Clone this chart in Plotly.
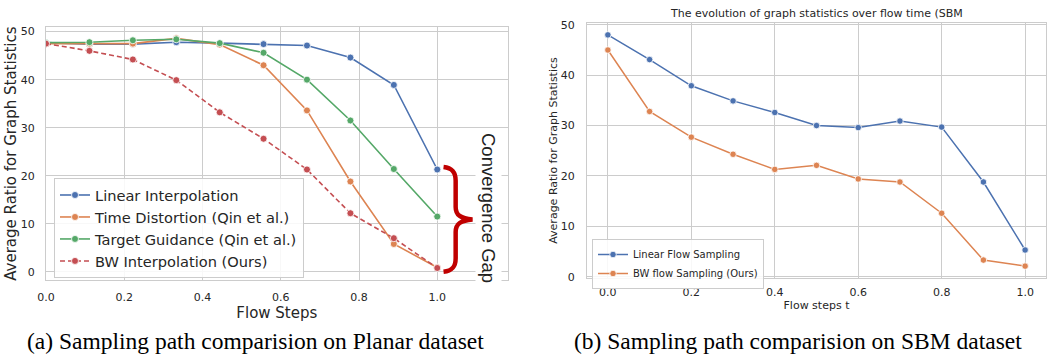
import plotly.graph_objects as go

# ---------------- data ----------------
steps_a = [0.0, 0.111, 0.222, 0.333, 0.444, 0.556, 0.667, 0.778, 0.889, 1.0]
linear_interp = [47.7, 47.4, 47.4, 47.8, 47.6, 47.4, 47.1, 44.6, 38.9, 21.3]
time_distortion = [47.5, 47.5, 47.5, 48.6, 47.3, 43.0, 33.6, 18.8, 5.8, 0.9]
target_guidance = [47.7, 47.8, 48.2, 48.4, 47.6, 45.6, 40.0, 31.5, 21.4, 11.5]
bw_interp = [47.5, 46.0, 44.2, 39.9, 33.2, 27.7, 21.3, 12.2, 7.0, 0.8]

steps_b = [0.0, 0.1, 0.2, 0.3, 0.4, 0.5, 0.6, 0.7, 0.8, 0.9, 1.0]
linear_flow = [48.0, 43.1, 37.9, 34.9, 32.6, 30.0, 29.6, 30.9, 29.7, 18.8, 5.3]
bw_flow = [45.0, 32.8, 27.7, 24.3, 21.3, 22.1, 19.4, 18.8, 12.6, 3.3, 2.1]

names_a = ["Linear Interpolation", "Time Distortion (Qin et al.)",
           "Target Guidance (Qin et al.)", "BW Interpolation (Ours)"]
names_b = ["Linear Flow Sampling", "BW flow Sampling (Ours)"]
ticks = [0.0, 0.2, 0.4, 0.6, 0.8, 1.0]
tick_text = ["0.0", "0.2", "0.4", "0.6", "0.8", "1.0"]

BLUE, ORANGE, GREEN, RED = "#4C72B0", "#DD8452", "#55A868", "#C44E52"
W, H = 1047, 356
FONT = "DejaVu Sans"
TXT = "#262626"
GRID = "#cccccc"

fig = go.Figure()

series_a = [(linear_interp, BLUE, "solid"), (time_distortion, ORANGE, "solid"),
            (target_guidance, GREEN, "solid"), (bw_interp, RED, "5px,3px")]
for (ys, col, dash), nm in zip(series_a, names_a):
    fig.add_trace(go.Scatter(
        x=steps_a, y=ys, name=nm, mode="lines+markers",
        line=dict(color=col, width=1.6, dash=dash),
        marker=dict(color=col, size=7, line=dict(color="white", width=0.8)),
        xaxis="x", yaxis="y", legend="legend"))

for ys, col, nm in [(linear_flow, BLUE, names_b[0]), (bw_flow, ORANGE, names_b[1])]:
    fig.add_trace(go.Scatter(
        x=steps_b, y=ys, name=nm, mode="lines+markers",
        line=dict(color=col, width=1.5),
        marker=dict(color=col, size=6.5, line=dict(color="white", width=0.8)),
        xaxis="x2", yaxis="y2", legend="legend2"))

def px_x(p):
    return p / W

def px_y(p):
    return 1 - p / H

axis_common = dict(showgrid=True, gridcolor=GRID, gridwidth=1, showline=True,
                   linecolor=GRID, linewidth=1.3, mirror=True, zeroline=False,
                   ticks="", color=TXT, automargin=False)

fig.update_layout(
    width=W, height=H, margin=dict(l=0, r=0, t=0, b=0, autoexpand=False),
    paper_bgcolor="white", plot_bgcolor="white",
    font=dict(family=FONT, color=TXT),
    xaxis=dict(axis_common, domain=[px_x(46), px_x(507.7)], range=[0, 1.18],
               tickvals=ticks, ticktext=tick_text, tickfont=dict(size=11),
               ticklabelstandoff=7, anchor="y",
               title=dict(text="Flow Steps", font=dict(size=15), standoff=1)),
    yaxis=dict(axis_common, domain=[px_y(280), px_y(27.3)], range=[-1.7, 50.9],
               tickvals=[0, 10, 20, 30, 40, 50], tickfont=dict(size=11),
               ticklabelstandoff=8, anchor="x",
               title=dict(text="Average Ratio for Graph Statistics",
                          font=dict(size=15), standoff=0)),
    xaxis2=dict(axis_common, domain=[px_x(587), px_x(1046)], range=[-0.05, 1.05],
                tickvals=ticks, ticktext=tick_text, tickfont=dict(size=11),
                ticklabelstandoff=4, anchor="y2",
                title=dict(text="Flow steps t", font=dict(size=11), standoff=1)),
    yaxis2=dict(axis_common, domain=[px_y(277.7), px_y(23.3)], range=[-0.2, 50.3],
                tickvals=[0, 10, 20, 30, 40, 50], tickfont=dict(size=11),
                ticklabelstandoff=9, anchor="x2",
                title=dict(text="Average Ratio for Graph Statistics",
                           font=dict(size=11), standoff=0)),
    legend=dict(x=px_x(54), y=px_y(178), xanchor="left", yanchor="top",
                bgcolor="rgba(255,255,255,0.85)", bordercolor=GRID, borderwidth=1,
                font=dict(size=14.6, color=TXT), itemwidth=30, tracegroupgap=0),
    legend2=dict(x=px_x(592), y=px_y(239), xanchor="left", yanchor="top",
                 bgcolor="rgba(255,255,255,0.85)", bordercolor=GRID, borderwidth=1,
                 font=dict(size=10, color=TXT), itemwidth=30, tracegroupgap=0),
    showlegend=True,
)

# brace marking the convergence gap (left panel, data coordinates)
y_top = linear_interp[-1] + 0.5
y_bot = bw_interp[-1] - 0.8
y_mid = (y_top + y_bot) / 2
x0, xs, xt = 1.016, 1.047, 1.090
h = y_top - y_bot
path = (f"M {x0},{y_top} "
        f"C {x0+0.023},{y_top-0.01*h} {xs},{y_top-0.05*h} {xs},{y_top-0.13*h} "
        f"L {xs},{y_mid+0.12*h} "
        f"C {xs},{y_mid+0.04*h} {xs+0.013},{y_mid+0.01*h} {xt},{y_mid} "
        f"C {xs+0.013},{y_mid-0.01*h} {xs},{y_mid-0.04*h} {xs},{y_mid-0.12*h} "
        f"L {xs},{y_bot+0.13*h} "
        f"C {xs},{y_bot+0.05*h} {x0+0.023},{y_bot+0.01*h} {x0},{y_bot}")
fig.add_shape(type="path", path=path, xref="x", yref="y",
              line=dict(color="#C00000", width=4.5), layer="above")

ann = dict(xref="paper", yref="paper", showarrow=False,
           xanchor="center", yanchor="middle")
fig.add_annotation(ann, text="Convergence Gap", x=px_x(489), y=px_y(208),
                   textangle=90,
                   font=dict(family="Liberation Sans", size=18.5, color="#222222"),
                   bgcolor="white", borderpad=2)

fig.add_annotation(ann, text="The evolution of graph statistics over flow time (SBM",
                   x=px_x(816.5), y=px_y(14), font=dict(size=11, color=TXT))

fig.add_annotation(ann, text="(a) Sampling path comparision on Planar dataset",
                   x=px_x(255), y=px_y(341),
                   font=dict(family="Liberation Serif", size=23.5, color="black"))
fig.add_annotation(ann, text="(b) Sampling path comparision on SBM dataset",
                   x=px_x(798), y=px_y(341),
                   font=dict(family="Liberation Serif", size=23.5, color="black"))

fig.write_html("out.html", config={"displayModeBar": False},
               post_script="document.body.style.margin='0';"
                           "document.body.style.overflow='hidden';")
